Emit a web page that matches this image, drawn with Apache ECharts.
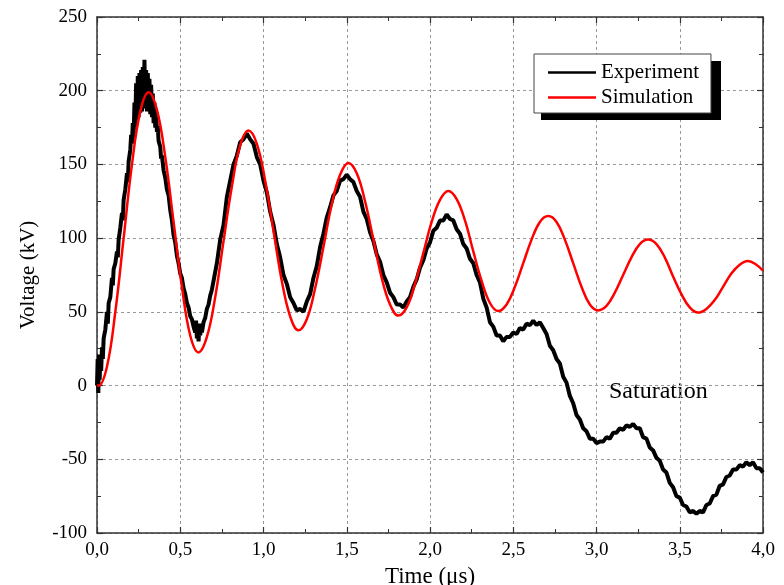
<!DOCTYPE html>
<html>
<head>
<meta charset="utf-8">
<script src="https://cdn.jsdelivr.net/npm/echarts@6/dist/echarts.min.js"></script>
<style>
  html, body { margin: 0; padding: 0; background: #fff; }
  #chart { width: 784px; height: 585px; }
</style>
</head>
<body>
<div id="chart"></div>
<script>
// tick labels
const xLabels = ['0,0', '0,5', '1,0', '1,5', '2,0', '2,5', '3,0', '3,5', '4,0']
const yLabels = ['-100', '-50', '0', '50', '100', '150', '200', '250']

// measured voltage [time (us), kV]
const experiment = [
  [0, 0], [0.004, 18], [0.008, -5], [0.012, 21], [0.016, 4], [0.02, 19], [0.025, 10],
  [0.03, 26], [0.035, 18], [0.04, 32], [0.05, 38], [0.06, 50], [0.065, 42], [0.07, 56],
  [0.08, 60], [0.09, 73], [0.095, 68], [0.1, 79], [0.11, 83], [0.12, 91], [0.125, 87],
  [0.13, 99], [0.14, 107], [0.15, 117], [0.155, 112], [0.16, 126], [0.17, 133], [0.18, 144],
  [0.185, 138], [0.19, 152], [0.2, 160],
  [0.205, 170], [0.21, 164], [0.215, 178], [0.22, 168], [0.225, 192], [0.23, 176],
  [0.235, 205], [0.24, 180], [0.245, 210], [0.25, 182], [0.255, 212], [0.26, 185],
  [0.265, 214], [0.27, 186], [0.275, 216], [0.28, 188], [0.285, 221], [0.29, 190],
  [0.295, 214], [0.3, 186], [0.305, 212], [0.31, 188], [0.315, 208], [0.32, 184],
  [0.325, 204], [0.33, 182], [0.335, 198], [0.34, 178], [0.345, 192], [0.35, 175],
  [0.355, 186], [0.36, 172], [0.365, 176], [0.37, 166], [0.38, 162], [0.385, 154],
  [0.39, 156], [0.4, 146], [0.41, 141], [0.42, 133], [0.43, 129], [0.44, 119], [0.45, 112],
  [0.46, 102], [0.47, 97], [0.48, 88], [0.49, 83], [0.5, 76], [0.51, 73], [0.52, 66],
  [0.53, 62], [0.54, 56], [0.55, 53], [0.56, 47], [0.57, 45], [0.58, 40],
  [0.59, 36], [0.595, 44], [0.6, 32], [0.605, 42], [0.61, 30], [0.615, 40], [0.62, 34],
  [0.625, 42], [0.63, 36], [0.64, 43], [0.65, 46], [0.66, 52], [0.67, 55], [0.68, 61],
  [0.69, 65], [0.7, 71], [0.72, 83], [0.74, 99], [0.76, 109], [0.78, 128], [0.8, 139],
  [0.82, 150], [0.84, 156], [0.86, 165], [0.88, 167], [0.9, 171], [0.92, 167], [0.94, 164],
  [0.96, 155], [0.98, 150], [1.0, 139], [1.02, 131], [1.04, 118], [1.06, 109], [1.08, 96],
  [1.1, 87], [1.12, 75], [1.14, 69], [1.16, 60], [1.18, 56], [1.2, 51], [1.22, 52],
  [1.24, 50], [1.26, 57], [1.28, 62], [1.3, 73], [1.32, 81], [1.34, 94], [1.36, 103],
  [1.38, 114], [1.4, 121], [1.42, 129], [1.44, 132], [1.46, 139], [1.48, 140], [1.5, 143],
  [1.52, 140], [1.54, 138], [1.56, 132], [1.58, 128], [1.6, 118], [1.62, 113], [1.64, 104],
  [1.66, 98], [1.68, 89], [1.7, 84], [1.72, 75], [1.74, 70], [1.76, 63], [1.78, 60],
  [1.8, 55], [1.82, 55], [1.84, 53], [1.86, 57], [1.88, 60], [1.9, 67], [1.92, 72],
  [1.94, 80], [1.96, 85], [1.98, 93], [2.0, 97], [2.02, 105], [2.04, 107], [2.06, 112],
  [2.08, 112], [2.1, 116], [2.12, 113], [2.14, 112], [2.16, 106], [2.18, 103], [2.2, 96],
  [2.22, 93], [2.24, 86], [2.26, 83], [2.28, 75], [2.3, 70], [2.32, 59], [2.34, 53],
  [2.36, 43], [2.38, 40], [2.4, 34], [2.42, 34], [2.44, 30], [2.46, 33], [2.48, 33],
  [2.5, 36], [2.52, 35], [2.54, 39], [2.56, 38], [2.58, 42], [2.6, 41], [2.62, 44],
  [2.64, 41], [2.66, 43], [2.68, 39], [2.7, 35], [2.72, 27], [2.74, 24], [2.76, 18],
  [2.78, 15], [2.8, 6], [2.82, 2], [2.84, -7], [2.86, -12], [2.88, -20], [2.9, -23],
  [2.92, -29], [2.94, -31], [2.96, -36], [2.98, -36], [3.0, -39], [3.02, -38], [3.04, -38],
  [3.06, -35], [3.08, -36], [3.1, -32], [3.12, -32], [3.14, -29], [3.16, -30], [3.18, -27],
  [3.2, -28], [3.22, -26], [3.24, -29], [3.26, -29], [3.28, -35], [3.3, -36], [3.32, -42],
  [3.34, -44], [3.36, -49], [3.38, -51], [3.4, -57], [3.42, -59], [3.44, -66], [3.46, -69],
  [3.48, -75], [3.5, -76], [3.52, -81], [3.54, -82], [3.56, -86], [3.58, -85], [3.6, -87],
  [3.62, -85], [3.64, -86], [3.66, -81], [3.68, -80], [3.7, -75], [3.72, -74], [3.74, -68],
  [3.76, -67], [3.78, -62], [3.8, -61], [3.82, -57], [3.84, -57], [3.86, -54], [3.88, -55],
  [3.9, -52], [3.92, -54], [3.94, -52], [3.96, -56], [3.98, -56], [4.0, -59]
]

// simulated voltage [time (us), kV]
const simulation = [
  [0, 0], [0.01, 0], [0.06, 13], [0.11, 50], [0.16, 100], [0.21, 150], [0.26, 186], [0.31, 199],
  [0.36, 187], [0.41, 155], [0.46, 111], [0.51, 67], [0.56, 34], [0.61, 22.5],
  [0.66, 33], [0.71, 60], [0.76, 98], [0.81, 135], [0.86, 163], [0.91, 173],
  [0.96, 164], [1.01, 139], [1.06, 105], [1.11, 71], [1.16, 47], [1.21, 37.5],
  [1.26, 45], [1.31, 66], [1.36, 94], [1.41, 123], [1.46, 143], [1.51, 151],
  [1.56, 144], [1.61, 125], [1.66, 99], [1.71, 73], [1.76, 55], [1.81, 47.5],
  [1.86, 53], [1.91, 69], [1.96, 90], [2.01, 111], [2.06, 126], [2.11, 132],
  [2.16, 126.5], [2.21, 112], [2.26, 91], [2.31, 71], [2.36, 56], [2.41, 50.5],
  [2.46, 55], [2.51, 67], [2.56, 83], [2.61, 99], [2.66, 111], [2.71, 115],
  [2.76, 111], [2.81, 99], [2.86, 83], [2.91, 67], [2.96, 55], [3.01, 51],
  [3.06, 54], [3.11, 63], [3.16, 75], [3.21, 87], [3.26, 96], [3.31, 99],
  [3.36, 96], [3.41, 87], [3.46, 74], [3.51, 62], [3.56, 53], [3.61, 49.5],
  [3.66, 52], [3.71, 58], [3.76, 67], [3.81, 76], [3.86, 82], [3.91, 84.5],
  [3.96, 82], [4.0, 78]
]

const serif = 'Liberation Serif'
const chart = echarts.init(document.getElementById('chart'))

const axisLine = { show: true, onZero: false, lineStyle: { color: '#333', width: 1.5 } }
const noLine = { show: false, onZero: false }
const grid = { show: true, lineStyle: { color: '#999', type: [3, 3], width: 1 } }
const majorTick = { inside: true, length: 6, lineStyle: { color: '#333', width: 1.2 } }
const minorTick = { inside: true, length: 4, lineStyle: { color: '#333', width: 1 } }

// plain frame axis: ticks only, no labels
const frameX = (pos, interval, tick, line) => ({
  type: 'value', min: 0, max: 4, interval: interval, position: pos,
  axisLine: line ? axisLine : noLine,
  axisTick: tick, axisLabel: { show: false }, splitLine: { show: false }
})
const frameY = (pos, interval, tick, line) => ({
  type: 'value', min: -100, max: 250, interval: interval, position: pos,
  axisLine: line ? axisLine : noLine,
  axisTick: tick, axisLabel: { show: false }, splitLine: { show: false }
})

const option = {
  animation: false,
  backgroundColor: '#fff',
  grid: {
    left: 97, right: 21, top: 17, bottom: 52,
    containLabel: false, outerBoundsMode: 'none'
  },
  legend: {
    orient: 'vertical',
    left: 534,
    top: 54,
    padding: [8, 12, 5, 14],
    itemGap: 4,
    itemWidth: 48,
    itemHeight: 2.5,
    icon: 'rect',
    backgroundColor: '#fff',
    borderColor: '#444',
    borderWidth: 1,
    textStyle: { fontFamily: serif, fontSize: 21, color: '#000' },
    data: ['Experiment', 'Simulation']
  },
  xAxis: [
    {
      type: 'value', min: 0, max: 4, interval: 0.5, position: 'bottom',
      axisLine: axisLine,
      axisTick: majorTick,
      splitLine: grid,
      name: 'Time (μs)',
      nameLocation: 'middle',
      nameGap: 32,
      nameTextStyle: { fontFamily: serif, fontSize: 23, color: '#000' },
      axisLabel: {
        margin: 8, fontFamily: serif, fontSize: 19, color: '#000',
        formatter: v => xLabels[Math.round(v / 0.5)]
      }
    },
    frameX('top', 0.5, majorTick, true),
    frameX('bottom', 0.25, minorTick, false),
    frameX('top', 0.25, minorTick, false)
  ],
  yAxis: [
    {
      type: 'value', min: -100, max: 250, interval: 50, position: 'left',
      axisLine: axisLine,
      axisTick: majorTick,
      splitLine: grid,
      name: 'Voltage (kV)',
      nameLocation: 'middle',
      nameRotate: 90,
      nameGap: 58,
      nameTextStyle: { fontFamily: serif, fontSize: 21, color: '#000' },
      axisLabel: {
        margin: 10, fontFamily: serif, fontSize: 19, color: '#000',
        formatter: v => yLabels[Math.round((v + 100) / 50)]
      }
    },
    frameY('right', 50, majorTick, true),
    frameY('left', 25, minorTick, false),
    frameY('right', 25, minorTick, false)
  ],
  graphic: [
    {
      // legend drop shadow
      type: 'rect',
      z: 1,
      shape: { x: 541, y: 61, width: 180, height: 59 },
      style: { fill: '#000' }
    },
    {
      type: 'text',
      left: 609,
      top: 380,
      style: { text: 'Saturation', fontFamily: serif, fontSize: 24, fill: '#000' }
    }
  ],
  series: [
    {
      name: 'Experiment',
      type: 'line',
      symbol: 'none',
      data: experiment,
      lineStyle: { color: '#000', width: 4 },
      itemStyle: { color: '#000' },
      z: 2
    },
    {
      name: 'Simulation',
      type: 'line',
      symbol: 'none',
      smooth: 0.4,
      data: simulation,
      lineStyle: { color: '#ff0000', width: 2.5 },
      itemStyle: { color: '#ff0000' },
      z: 3
    }
  ]
}

chart.setOption(option)
</script>
</body>
</html>
